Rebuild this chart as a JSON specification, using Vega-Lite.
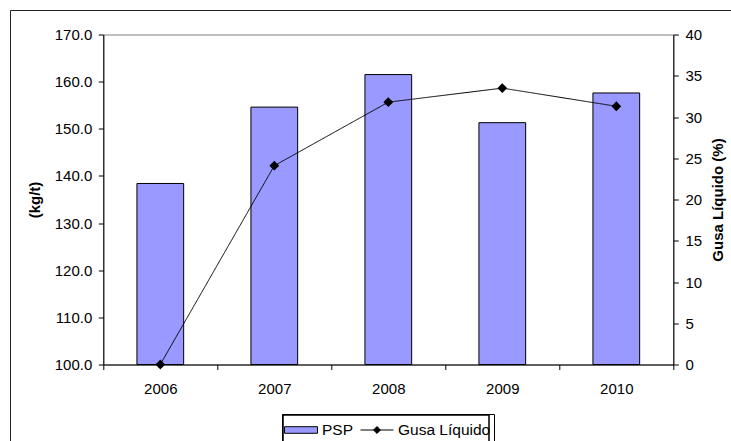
{
  "$schema": "https://vega.github.io/schema/vega-lite/v6.json",
  "width": 570,
  "height": 330,
  "autosize": {"type": "none"},
  "padding": {"left": 103.3, "top": 34.5, "right": 57.7, "bottom": 76.5},
  "background": "white",
  "config": {
    "font": "Liberation Sans",
    "view": {"stroke": "#808080", "strokeWidth": 1},
    "axis": {
      "labelFont": "Liberation Sans",
      "labelFontSize": 15,
      "labelColor": "black",
      "domainColor": "black",
      "domainWidth": 1,
      "tickColor": "black",
      "tickSize": 5,
      "tickWidth": 1,
      "grid": false,
      "titleFont": "Liberation Sans",
      "titleFontSize": 15,
      "titleFontWeight": "bold",
      "titleColor": "black"
    },
    "legend": {
      "labelFont": "Liberation Sans",
      "labelFontSize": 15.5,
      "labelColor": "black",
      "labelOffset": 4,
      "padding": 0
    }
  },
  "data": {
    "values": [
      {"year": "2006", "psp": 138.4, "gusa": 0},
      {"year": "2007", "psp": 154.6, "gusa": 24.1},
      {"year": "2008", "psp": 161.5, "gusa": 31.8},
      {"year": "2009", "psp": 151.3, "gusa": 33.5},
      {"year": "2010", "psp": 157.6, "gusa": 31.3}
    ]
  },
  "layer": [
    {
      "mark": {"type": "bar", "stroke": "black", "strokeWidth": 1, "width": {"band": 0.41}},
      "encoding": {
        "x": {
          "field": "year",
          "type": "ordinal",
          "scale": {"paddingInner": 0, "paddingOuter": 0},
          "axis": {"title": null, "labelAngle": 0, "tickBand": "extent", "labelPadding": 12}
        },
        "y": {
          "field": "psp",
          "type": "quantitative",
          "scale": {"domain": [100, 170], "zero": false, "nice": false},
          "axis": {
            "title": "(kg/t)",
            "format": ".1f",
            "values": [100, 110, 120, 130, 140, 150, 160, 170],
            "labelPadding": 6.5,
            "titlePadding": 12
          }
        },
        "y2": {"datum": 100},
        "fill": {
          "datum": "PSP",
          "type": "nominal",
          "scale": {"domain": ["PSP"], "range": ["#9999FF"]},
          "legend": {
            "orient": "none",
            "legendX": 180.7,
            "legendY": 378.5,
            "title": null,
            "symbolType": "M-1,-0.2H1V0.2H-1Z",
            "symbolSize": 1089,
            "symbolStrokeColor": "black",
            "symbolStrokeWidth": 1
          }
        }
      }
    },
    {
      "mark": {
        "type": "line",
        "color": "black",
        "strokeWidth": 1,
        "point": {"filled": true, "shape": "diamond", "size": 49, "color": "black"}
      },
      "encoding": {
        "x": {"field": "year", "type": "ordinal"},
        "y": {
          "field": "gusa",
          "type": "quantitative",
          "scale": {"domain": [0, 40], "nice": false},
          "axis": {
            "orient": "right",
            "title": "Gusa Líquido (%)",
            "titleAngle": -90,
            "titleBaseline": "top",
            "values": [0, 5, 10, 15, 20, 25, 30, 35, 40],
            "labelPadding": 6.7,
            "titlePadding": 9
          }
        },
        "stroke": {
          "datum": "Gusa Líquido",
          "type": "nominal",
          "scale": {"domain": ["Gusa Líquido"], "range": ["black"]},
          "legend": {
            "orient": "none",
            "legendX": 256.7,
            "legendY": 378.5,
            "title": null,
            "symbolType": "M-1,0H1M0,-0.21L0.21,0L0,0.21L-0.21,0Z",
            "symbolSize": 1089,
            "symbolFillColor": "black",
            "symbolStrokeColor": "black",
            "symbolStrokeWidth": 1
          }
        },
        "opacity": {
          "datum": "box",
          "type": "nominal",
          "scale": {"domain": ["box"], "range": [1]},
          "legend": {
            "orient": "none",
            "legendX": 178.7,
            "legendY": 379.5,
            "title": null,
            "strokeColor": "black",
            "symbolType": "square",
            "symbolSize": 42436,
            "symbolOpacity": 0,
            "labelOpacity": 0,
            "labelExpr": "''"
          }
        },
        "strokeDash": {
          "datum": "frame",
          "type": "nominal",
          "scale": {"domain": ["frame"], "range": [[1, 0]]},
          "legend": {
            "orient": "none",
            "legendX": -93.3,
            "legendY": -24.5,
            "title": null,
            "strokeColor": "#222222",
            "symbolType": "square",
            "symbolSize": 1000000,
            "symbolOpacity": 0,
            "labelOpacity": 0,
            "labelExpr": "''",
            "encode": {"legend": {"strokeWidth": {"value": 1.5}}}
          }
        }
      }
    }
  ],
  "resolve": {"scale": {"y": "independent"}}
}
